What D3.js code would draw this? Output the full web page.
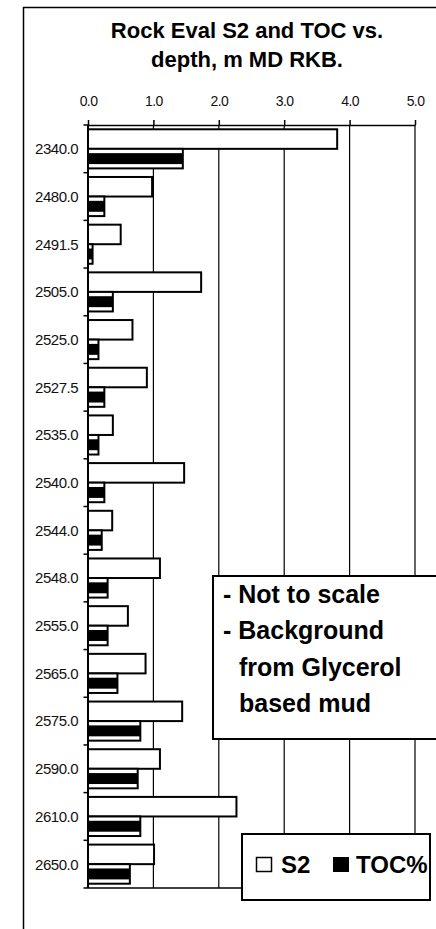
<!DOCTYPE html>
<html><head><meta charset="utf-8">
<script src="https://cdn.jsdelivr.net/npm/d3@7"></script>
<style>html,body{margin:0;padding:0;background:#fff;} svg{display:block;font-family:"Liberation Sans",Arial,sans-serif;}</style>
</head><body><svg id="c" width="436" height="929"></svg>
<script>
const depths = ["2340.0","2480.0","2491.5","2505.0","2525.0","2527.5","2535.0","2540.0","2544.0","2548.0","2555.0","2565.0","2575.0","2590.0","2610.0","2650.0"];
const s2Values = [3.81,0.98,0.50,1.73,0.68,0.90,0.38,1.47,0.37,1.10,0.61,0.88,1.44,1.10,2.27,1.01];
const tocValues = [1.45,0.25,0.07,0.38,0.16,0.25,0.16,0.25,0.21,0.30,0.30,0.45,0.80,0.76,0.80,0.64];
const xTicks = [0,1,2,3,4,5];
const titleLines = ["Rock Eval S2 and TOC vs.","depth, m MD RKB."];
const noteLines = ["- Not to scale","- Background","from Glycerol","based mud"];
const seriesNames = ["S2","TOC%"];

const svg = d3.select("#c");
const x = d3.scaleLinear().domain([0,5]).range([88,415]);
const y = d3.scaleBand().domain(depths).range([125,888]).paddingInner(0.18).paddingOuter(0.09);
const bw = y.bandwidth();
const step = y.step();

// outer frame
svg.append("rect").attr("x",23.5).attr("y",7.5).attr("width",600).attr("height",1000)
  .attr("fill","none").attr("stroke","#000").attr("stroke-width",1.5);

// title
svg.append("g").selectAll("text").data(titleLines).join("text")
  .attr("x",247).attr("y",(d,i)=>38+i*29).attr("text-anchor","middle")
  .attr("font-size",22).attr("font-weight","bold").attr("fill","#000").text(d=>d);

// gridlines
svg.append("g").selectAll("line").data(xTicks.filter(d=>d>0)).join("line")
  .attr("x1",d=>x(d)).attr("x2",d=>x(d)).attr("y1",125).attr("y2",888)
  .attr("stroke","#000").attr("stroke-width",1.2);

// bottom line
svg.append("line").attr("x1",x(0)).attr("x2",x(5)).attr("y1",888).attr("y2",888)
  .attr("stroke","#000").attr("stroke-width",1.5);

// top axis
const ax = svg.append("g").attr("transform","translate(0,125)")
  .call(d3.axisTop(x).tickValues(xTicks).tickFormat(d3.format(".1f")).tickSize(5).tickSizeOuter(0).tickPadding(14));
ax.select(".domain").attr("stroke-width",1.5);
ax.selectAll(".tick line").attr("stroke-width",1.5);
ax.selectAll("text").attr("font-size",14).attr("letter-spacing","-0.6px").attr("fill","#111")
  .attr("font-family","'Liberation Sans',Arial,sans-serif");

// bars
const bars = svg.append("g");
const rows = depths.map((d,i)=>({d, s2:s2Values[i], toc:tocValues[i]}));
bars.selectAll("rect.s2").data(rows).join("rect").attr("class","s2")
  .attr("x",x(0)).attr("y",r=>y(r.d)).attr("width",r=>x(r.s2)-x(0)).attr("height",bw/2)
  .attr("fill","#fff").attr("stroke","#000").attr("stroke-width",2);
bars.selectAll("rect.toc").data(rows).join("rect").attr("class","toc")
  .attr("x",x(0)).attr("y",r=>y(r.d)+bw/2).attr("width",r=>x(r.toc)-x(0)).attr("height",bw/2)
  .attr("fill","#fff").attr("stroke","#000").attr("stroke-width",2);
bars.selectAll("rect.tocin").data(rows).join("rect").attr("class","tocin")
  .attr("x",x(0)).attr("y",r=>y(r.d)+bw/2+bw/2*0.22).attr("width",r=>x(r.toc)-x(0)).attr("height",bw/2*0.56)
  .attr("fill","#000");

// left axis
const boundaries = d3.range(depths.length+1).map(i=>y.range()[0]+i*step);
svg.append("line").attr("x1",x(0)).attr("x2",x(0)).attr("y1",125).attr("y2",888)
  .attr("stroke","#000").attr("stroke-width",2);
svg.append("g").selectAll("line").data(boundaries).join("line")
  .attr("x1",x(0)-4.5).attr("x2",x(0)).attr("y1",d=>d).attr("y2",d=>d)
  .attr("stroke","#000").attr("stroke-width",1.5);
svg.append("g").selectAll("text").data(depths).join("text")
  .attr("x",78).attr("y",d=>y(d)+bw/2).attr("dy","0.36em").attr("text-anchor","end")
  .attr("font-size",15).attr("letter-spacing","-0.5px").attr("fill","#111").text(d=>d);

// note box
svg.append("rect").attr("x",213).attr("y",576).attr("width",260).attr("height",163)
  .attr("fill","#fff").attr("stroke","#000").attr("stroke-width",2);
svg.append("g").selectAll("text").data(noteLines).join("text")
  .attr("x",(d,i)=>i<2?223:239).attr("y",(d,i)=>603+i*36.3)
  .attr("font-size",25).attr("font-weight","bold").attr("fill","#000").text(d=>d);

// legend
svg.append("rect").attr("x",242).attr("y",834).attr("width",188).attr("height",66)
  .attr("fill","#fff").attr("stroke","#000").attr("stroke-width",2);
const lg = svg.append("g");
lg.append("rect").attr("x",256.5).attr("y",857.5).attr("width",15).attr("height",14)
  .attr("fill","#fff").attr("stroke","#000").attr("stroke-width",1.5);
lg.append("text").attr("x",281).attr("y",873).attr("font-size",24).attr("font-weight","bold").text(seriesNames[0]);
lg.append("rect").attr("x",333).attr("y",857).attr("width",16).attr("height",15).attr("fill","#000");
lg.append("text").attr("x",356).attr("y",873).attr("font-size",24).attr("font-weight","bold").text(seriesNames[1]);
</script></body></html>
